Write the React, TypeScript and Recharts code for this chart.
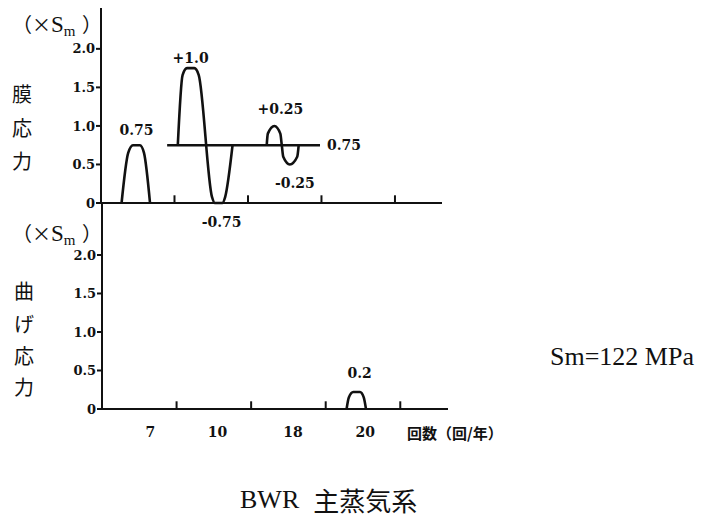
import React from 'react';
import { LineChart, Line, XAxis, YAxis, ReferenceLine, ReferenceDot } from 'recharts';

// x is measured in "bands" (one band per count group), y in multiples of Sm
type Pt = { x: number; y: number };

// 膜応力 (membrane stress)
const memPulse07: Pt[] = [
  { x: 0.28, y: 0 }, { x: 0.37, y: 0.65 }, { x: 0.435, y: 0.75 },
  { x: 0.53, y: 0.75 }, { x: 0.585, y: 0.65 }, { x: 0.667, y: 0 },
];
const memBase: Pt[] = [{ x: 0.9, y: 0.75 }, { x: 2.98, y: 0.75 }];
const memPulse10: Pt[] = [
  { x: 1.045, y: 0.75 }, { x: 1.11, y: 1.66 }, { x: 1.17, y: 1.75 }, { x: 1.27, y: 1.75 },
  { x: 1.33, y: 1.66 }, { x: 1.51, y: 0.08 }, { x: 1.55, y: 0 }, { x: 1.65, y: 0 },
  { x: 1.69, y: 0.08 }, { x: 1.79, y: 0.75 },
];
const memWave18: Pt[] = [
  { x: 2.255, y: 0.75 }, { x: 2.27, y: 0.9 }, { x: 2.36, y: 1.0 }, { x: 2.44, y: 0.9 },
  { x: 2.46, y: 0.75 }, { x: 2.48, y: 0.6 }, { x: 2.57, y: 0.5 }, { x: 2.67, y: 0.6 },
  { x: 2.69, y: 0.75 },
];

// 曲げ応力 (bending stress)
const bendPulse20: Pt[] = [
  { x: 3.28, y: 0 }, { x: 3.31, y: 0.15 }, { x: 3.37, y: 0.22 },
  { x: 3.46, y: 0.22 }, { x: 3.51, y: 0.15 }, { x: 3.54, y: 0 },
];

const bandEdges = [1, 2, 3, 4];
const yTicks = [0, 0.5, 1, 1.5, 2];
const countLabels = ['7', '10', '18', '20'];
const countPos = [0.65, 1.55, 2.56, 3.53];

const INK = '#111';
const numFont = { fontFamily: '"DejaVu Serif", serif', fontWeight: 700, fill: INK };
const serif = '"Liberation Serif", serif';
const cjk = '"Noto Sans CJK JP", sans-serif';

const peak = (s: Pt[]) => {
  const m = Math.max(...s.map((p) => p.y));
  const xs = s.filter((p) => p.y === m).map((p) => p.x);
  return { x: (Math.min(...xs) + Math.max(...xs)) / 2, y: m };
};
const trough = (s: Pt[]) => {
  const m = Math.min(...s.map((p) => p.y));
  const xs = s.filter((p) => p.y === m).map((p) => p.x);
  return { x: (Math.min(...xs) + Math.max(...xs)) / 2, y: m };
};

const fmtY = (v: number) => (v === 0 ? '0' : v.toFixed(1));

function Note({ at, text, position, offset, dx = 0 }: { at: Pt; text: string; position: any; offset: number; dx?: number }) {
  return (
    <ReferenceDot
      x={at.x}
      y={at.y}
      r={0}
      fill="none"
      stroke="none"
      ifOverflow="visible"
      label={{ value: text, position, offset, dx, style: { ...numFont, fontSize: 14 } }}
    />
  );
}

function series(data: Pt[], key: string) {
  return (
    <Line
      key={key}
      data={data}
      dataKey="y"
      type="monotone"
      stroke={INK}
      strokeWidth={2.6}
      dot={false}
      activeDot={false}
      isAnimationActive={false}
    />
  );
}

function YTitle({ y }: { y: number }) {
  return (
    <text y={y} fontFamily={serif} fontSize={23} fill={INK}>
      <tspan x={12} fontFamily={cjk} fontSize={20}>（</tspan>
      <tspan x={32} fontFamily={cjk} fontSize={19}>×</tspan>
      <tspan x={51}>S</tspan>
      <tspan dy={4} fontSize={15}>m</tspan>
      <tspan x={82} dy={-4} fontFamily={cjk} fontSize={20}>）</tspan>
    </text>
  );
}

export default function App() {
  const p07 = peak(memPulse07);
  const p10 = peak(memPulse10);
  const t10 = trough(memPulse10);
  const p18 = peak(memWave18);
  const t18 = trough(memWave18);
  const base = memBase[memBase.length - 1];
  const p20 = peak(bendPulse20);

  const axisLine = { stroke: INK, strokeWidth: 2 };

  return (
    <div style={{ position: 'absolute', left: 0, top: 0, width: 702, height: 519, background: '#fff' }}>
      <div style={{ position: 'absolute', left: 0, top: 0 }}>
        <LineChart width={460} height={240} margin={{ top: 8, right: 18, left: 0, bottom: 35 }}>
          <XAxis type="number" dataKey="x" domain={[0, 4.64]} allowDataOverflow tick={false} tickLine={false} height={2} axisLine={axisLine} />
          <YAxis
            type="number"
            domain={[0, 2.53]}
            ticks={yTicks}
            tickFormatter={fmtY}
            width={101}
            tickSize={5}
            tickMargin={1}
            axisLine={axisLine}
            tickLine={axisLine}
            tick={{ ...numFont, fontSize: 13 }}
          />
          {bandEdges.map((e) => (
            <ReferenceLine key={e} segment={[{ x: e, y: 0 }, { x: e, y: 0.1 }]} stroke={INK} strokeWidth={2} />
          ))}
          {series(memBase, 'base')}
          {series(memPulse07, 'p07')}
          {series(memPulse10, 'p10')}
          {series(memWave18, 'p18')}
          <Note at={p07} text="0.75" position="top" offset={10} />
          <Note at={p10} text="+1.0" position="top" offset={5} />
          <Note at={t10} text="-0.75" position="bottom" offset={14} dx={3} />
          <Note at={p18} text="+0.25" position="top" offset={12} dx={6} />
          <Note at={t18} text="-0.25" position="bottom" offset={14} dx={5} />
          <Note at={base} text="0.75" position="right" offset={7} />
        </LineChart>
      </div>

      <div style={{ position: 'absolute', left: 0, top: 195 }}>
        <LineChart width={470} height={250} margin={{ top: 8, right: 22, left: 0, bottom: 6 }}>
          <XAxis
            type="number"
            dataKey="x"
            domain={[0, 4.64]}
            allowDataOverflow
            ticks={countPos}
            interval={0}
            tickFormatter={(v: number) => countLabels[countPos.indexOf(v)]}
            tickLine={false}
            tickSize={0}
            tickMargin={18}
            height={30}
            axisLine={axisLine}
            tick={{ ...numFont, fontSize: 14 }}
          />
          <YAxis
            type="number"
            domain={[0, 2.675]}
            ticks={yTicks}
            tickFormatter={fmtY}
            width={102}
            tickSize={5}
            tickMargin={1}
            axisLine={axisLine}
            tickLine={axisLine}
            tick={{ ...numFont, fontSize: 13 }}
          />
          {bandEdges.map((e) => (
            <ReferenceLine key={e} segment={[{ x: e, y: 0 }, { x: e, y: 0.1 }]} stroke={INK} strokeWidth={2} />
          ))}
          {series(bendPulse20, 'b20')}
          <Note at={p20} text="0.2" position="top" offset={14} dx={3} />
        </LineChart>
      </div>

      <svg width={702} height={519} style={{ position: 'absolute', left: 0, top: 0, pointerEvents: 'none' }}>
        <YTitle y={32} />
        <YTitle y={241} />
        <g fontFamily={cjk} fontSize={20} fill={INK} textAnchor="middle" dominantBaseline="central">
          <text x={22} y={93}>膜</text>
          <text x={22} y={127}>応</text>
          <text x={22} y={160}>力</text>
          <text x={24} y={290}>曲</text>
          <text x={24} y={323}>げ</text>
          <text x={24} y={355}>応</text>
          <text x={24} y={386}>力</text>
        </g>
        <text x={407} y={432} fontFamily={cjk} fontWeight={700} fontSize={15} fill={INK} dominantBaseline="central">
          回数（回/年）
        </text>
        <text x={550} y={356} fontFamily={serif} fontSize={26} fill={INK} dominantBaseline="central">
          Sm=122 MPa
        </text>
        <text x={240} y={499} fontFamily={serif} fontSize={26} fill={INK} dominantBaseline="central">
          BWR<tspan fontFamily={cjk} dx={14}>主蒸気系</tspan>
        </text>
      </svg>
    </div>
  );
}
